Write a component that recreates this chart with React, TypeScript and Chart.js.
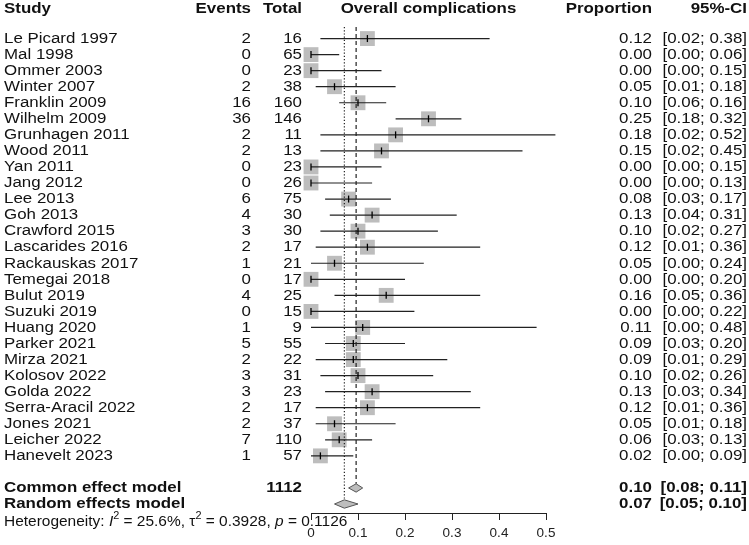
import { useEffect, useRef } from "react";
import { Chart, registerables } from "chart.js";

Chart.register(...registerables);

// ---------- data ----------
const studies = [
  "Le Picard 1997", "Mal 1998", "Ommer 2003", "Winter 2007", "Franklin 2009",
  "Wilhelm 2009", "Grunhagen 2011", "Wood 2011", "Yan 2011", "Jang 2012",
  "Lee 2013", "Goh 2013", "Crawford 2015", "Lascarides 2016", "Rackauskas 2017",
  "Temegai 2018", "Bulut 2019", "Suzuki 2019", "Huang 2020", "Parker 2021",
  "Mirza 2021", "Kolosov 2022", "Golda 2022", "Serra-Aracil 2022", "Jones 2021",
  "Leicher 2022", "Hanevelt 2023",
];
const events = [2, 0, 0, 2, 16, 36, 2, 2, 0, 0, 6, 4, 3, 2, 1, 0, 4, 0, 1, 5, 2, 3, 3, 2, 2, 7, 1];
const totals = [16, 65, 23, 38, 160, 146, 11, 13, 23, 26, 75, 30, 30, 17, 21, 17, 25, 15, 9, 55, 22, 31, 23, 17, 37, 110, 57];
const proportions = [0.12, 0.0, 0.0, 0.05, 0.1, 0.25, 0.18, 0.15, 0.0, 0.0, 0.08, 0.13, 0.1, 0.12, 0.05, 0.0, 0.16, 0.0, 0.11, 0.09, 0.09, 0.1, 0.13, 0.12, 0.05, 0.06, 0.02];
const ciLower = [0.02, 0.0, 0.0, 0.01, 0.06, 0.18, 0.02, 0.02, 0.0, 0.0, 0.03, 0.04, 0.02, 0.01, 0.0, 0.0, 0.05, 0.0, 0.0, 0.03, 0.01, 0.02, 0.03, 0.01, 0.01, 0.03, 0.0];
const ciUpper = [0.38, 0.06, 0.15, 0.18, 0.16, 0.32, 0.52, 0.45, 0.15, 0.13, 0.17, 0.31, 0.27, 0.36, 0.24, 0.2, 0.36, 0.22, 0.48, 0.2, 0.29, 0.26, 0.34, 0.36, 0.18, 0.13, 0.09];

const totalN = 1112;
const commonEffect = [0.096, 0.08, 0.11]; // estimate, lower, upper
const randomEffect = [0.071, 0.05, 0.1];
const heteroI2 = "25.6%";
const heteroTau2 = "0.3928";
const heteroP = "0.1126";

const xTicks = [0, 0.1, 0.2, 0.3, 0.4, 0.5];

// ---------- layout constants ----------
const FONT = "'Liberation Sans', Arial, Helvetica, sans-serif";
const COMMON_ROW = 28;
const RANDOM_ROW = 29;
const HETERO_ROW = 30.1;
const HEADER_ROW = -1.88;
const DIAMOND_HALF = 0.26;

function diamond(est: number, lo: number, hi: number, row: number) {
  return [
    { x: lo, y: row },
    { x: est, y: row - DIAMOND_HALF },
    { x: hi, y: row },
    { x: est, y: row + DIAMOND_HALF },
    { x: lo, y: row },
  ];
}

export default function App() {
  const ref = useRef<HTMLCanvasElement>(null);

  useEffect(() => {
    document.body.style.margin = "0";
    const canvas = ref.current!;

    const ciData: any[] = [];
    studies.forEach((_, i) => {
      ciData.push({ x: ciLower[i], y: i });
      ciData.push({ x: ciUpper[i], y: i });
      ciData.push({ x: ciUpper[i], y: null });
    });

    const textPlugin = {
      id: "forestText",
      afterDraw(chart: any) {
        const ctx: CanvasRenderingContext2D = chart.ctx;
        const ys = chart.scales.y;
        const xs = chart.scales.x;
        const SX = 1.09;
        const put = (
          txt: string,
          x: number,
          row: number,
          align: CanvasTextAlign,
          bold = false,
          size = 15.5
        ) => {
          ctx.save();
          ctx.font = `${bold ? "bold " : ""}${size}px ${FONT}`;
          ctx.fillStyle = "#111";
          ctx.textBaseline = "middle";
          ctx.textAlign = align;
          ctx.translate(x, ys.getPixelForValue(row));
          ctx.scale(SX, 1);
          ctx.fillText(txt, 0, 0);
          ctx.restore();
        };

        const X_STUDY = 4;
        const X_EVENTS = 251;
        const X_TOTAL = 302;
        const X_PROP = 652;
        const X_CI = 747;

        // header
        put("Study", X_STUDY, HEADER_ROW, "left", true);
        put("Events", X_EVENTS, HEADER_ROW, "right", true);
        put("Total", X_TOTAL, HEADER_ROW, "right", true);
        put("Overall complications", xs.getPixelForValue(0.25), HEADER_ROW, "center", true);
        put("Proportion", X_PROP, HEADER_ROW, "right", true);
        put("95%-CI", X_CI, HEADER_ROW, "right", true);

        const fmt = (v: number) => v.toFixed(2);
        studies.forEach((s, i) => {
          put(s, X_STUDY, i, "left");
          put(String(events[i]), X_EVENTS, i, "right");
          put(String(totals[i]), X_TOTAL, i, "right");
          put(fmt(proportions[i]), X_PROP, i, "right");
          put(`[${fmt(ciLower[i])}; ${fmt(ciUpper[i])}]`, X_CI, i, "right");
        });

        put("Common effect model", X_STUDY, COMMON_ROW, "left", true);
        put(String(totalN), X_TOTAL, COMMON_ROW, "right", true);
        put(fmt(commonEffect[0]), X_PROP, COMMON_ROW, "right", true);
        put(`[${fmt(commonEffect[1])}; ${fmt(commonEffect[2])}]`, X_CI, COMMON_ROW, "right", true);

        put("Random effects model", X_STUDY, RANDOM_ROW, "left", true);
        put(fmt(randomEffect[0]), X_PROP, RANDOM_ROW, "right", true);
        put(`[${fmt(randomEffect[1])}; ${fmt(randomEffect[2])}]`, X_CI, RANDOM_ROW, "right", true);

        // heterogeneity line
        const segs: { t: string; italic?: boolean; sup?: boolean }[] = [
          { t: "Heterogeneity: " },
          { t: "I", italic: true },
          { t: "2", sup: true },
          { t: ` = ${heteroI2}, ` },
          { t: "\u03c4" },
          { t: "2", sup: true },
          { t: ` = ${heteroTau2}, ` },
          { t: "p", italic: true },
          { t: ` = ${heteroP}` },
        ];
        ctx.save();
        ctx.fillStyle = "#111";
        ctx.textBaseline = "middle";
        ctx.textAlign = "left";
        ctx.translate(X_STUDY, ys.getPixelForValue(HETERO_ROW));
        ctx.scale(SX, 1);
        let cx = 0;
        const HS = 14.2;
        for (const sg of segs) {
          const size = sg.sup ? 10 : HS;
          ctx.font = `${sg.italic ? "italic " : ""}${size}px ${FONT}`;
          ctx.fillText(sg.t, cx, sg.sup ? -5 : 0);
          cx += ctx.measureText(sg.t).width;
        }
        ctx.restore();
      },
    };

    const chart = new Chart(canvas, {
      type: "scatter",
      data: {
        datasets: [
          {
            type: "scatter",
            label: "weights",
            data: studies.map((_, i) => ({ x: proportions[i], y: i })),
            pointStyle: "rect",
            pointRadius: 10.5,
            backgroundColor: "#bdbdbd",
            borderColor: "rgba(0,0,0,0)",
            borderWidth: 0,
            clip: false,
            order: 5,
          } as any,
          {
            type: "line",
            label: "ci",
            data: ciData,
            borderColor: "#222",
            borderWidth: 1.2,
            pointRadius: 0,
            spanGaps: false,
            fill: false,
            clip: false,
            order: 3,
          } as any,
          {
            type: "scatter",
            label: "estimate",
            data: studies.map((_, i) => ({ x: proportions[i], y: i })),
            pointStyle: "line",
            pointRotation: 90,
            pointRadius: 3.5,
            borderColor: "#000",
            borderWidth: 1.3,
            clip: false,
            order: 1,
          } as any,
          {
            type: "line",
            label: "common line",
            data: [
              { x: commonEffect[0], y: -0.72 },
              { x: commonEffect[0], y: COMMON_ROW - DIAMOND_HALF },
            ],
            borderColor: "#222",
            borderWidth: 1.2,
            borderDash: [4, 3],
            pointRadius: 0,
            fill: false,
            clip: false,
            order: 4,
          } as any,
          {
            type: "line",
            label: "random line",
            data: [
              { x: randomEffect[0], y: -0.72 },
              { x: randomEffect[0], y: RANDOM_ROW - DIAMOND_HALF },
            ],
            borderColor: "#222",
            borderWidth: 1.2,
            borderDash: [1.2, 2],
            pointRadius: 0,
            fill: false,
            clip: false,
            order: 4,
          } as any,
          {
            type: "line",
            label: "common diamond",
            data: diamond(commonEffect[0], commonEffect[1], commonEffect[2], COMMON_ROW),
            borderColor: "#555",
            borderWidth: 1,
            backgroundColor: "#bdbdbd",
            fill: "shape",
            pointRadius: 0,
            tension: 0,
            clip: false,
            order: 2,
          } as any,
          {
            type: "line",
            label: "random diamond",
            data: diamond(randomEffect[0], randomEffect[1], randomEffect[2], RANDOM_ROW),
            borderColor: "#555",
            borderWidth: 1,
            backgroundColor: "#bdbdbd",
            fill: "shape",
            pointRadius: 0,
            tension: 0,
            clip: false,
            order: 2,
          } as any,
        ],
      },
      options: {
        responsive: false,
        animation: false,
        devicePixelRatio: 1,
        layout: { padding: { left: 311, right: 203, top: 27, bottom: 0 } },
        plugins: {
          legend: { display: false },
          tooltip: { enabled: false },
        },
        scales: {
          x: {
            type: "linear",
            position: "bottom",
            min: xTicks[0],
            max: xTicks[xTicks.length - 1],
            afterBuildTicks: (scale: any) => {
              scale.ticks = xTicks.map((v) => ({ value: v }));
            },
            afterFit: (scale: any) => {
              scale.height = 32;
            },
            ticks: {
              callback: (v: any) => String(Number(Number(v).toFixed(1))),
              font: { family: FONT, size: 13.5 },
              color: "#222",
              padding: 5,
              maxRotation: 0,
              autoSkip: false,
            },
            grid: {
              drawOnChartArea: false,
              drawTicks: true,
              tickLength: 7,
              color: "#222",
            },
            border: { display: true, color: "#222", width: 1 },
          },
          y: {
            type: "linear",
            min: -0.72,
            max: 29.56,
            reverse: true,
            display: false,
          },
        },
      } as any,
      plugins: [textPlugin],
    });

    return () => chart.destroy();
  }, []);

  return (
    <canvas
      ref={ref}
      width={749}
      height={545}
      style={{ display: "block", width: 749, height: 545, background: "#fff" }}
    />
  );
}
